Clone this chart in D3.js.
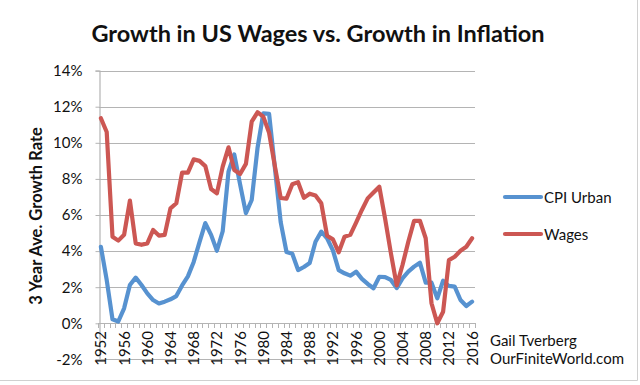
<!DOCTYPE html>
<html>
<head>
<meta charset="utf-8">
<script src="https://cdn.jsdelivr.net/npm/d3@7"></script>
<style>
  body { margin: 0; background: #fff; }
  svg { display: block; font-family: Lato, "Open Sans", sans-serif; }
</style>
</head>
<body>
<svg id="chart" width="640" height="385"></svg>
<script>
// years 1952..2016, 3 year average growth rates (%)
var years = d3.range(1952, 2017);
var cpiUrban = [4.24, 2.4, 0.22, 0.1, 0.83, 2.12, 2.53, 2.12, 1.66, 1.29,
  1.1, 1.2, 1.33, 1.51, 2.1, 2.6, 3.4, 4.5, 5.55, 4.9,
  4.02, 5.1, 8.4, 9.35, 7.7, 6.1, 6.83, 9.7, 11.63, 11.6,
  8.6, 5.6, 3.95, 3.85, 2.95, 3.12, 3.34, 4.52, 5.08, 4.71,
  4.04, 2.95, 2.77, 2.64, 2.86, 2.46, 2.18, 1.94, 2.58, 2.56,
  2.4, 1.95, 2.49, 2.86, 3.14, 3.36, 2.25, 2.25, 1.38, 2.36,
  2.07, 2.03, 1.29, 0.96, 1.2];
var wages = [11.36, 10.6, 4.8, 4.58, 4.9, 6.8, 4.43, 4.35, 4.43, 5.17,
  4.86, 4.9, 6.37, 6.65, 8.35, 8.35, 9.08, 9.0, 8.71, 7.44,
  7.2, 8.68, 9.75, 8.49, 8.27, 8.83, 11.17, 11.69, 11.45, 10.55,
  8.7, 6.95, 6.9, 7.7, 7.82, 6.95, 7.18, 7.08, 6.65, 4.85,
  4.65, 3.93, 4.8, 4.9, 5.58, 6.28, 6.92, 7.25, 7.57, 5.8,
  3.88, 2.1, 3.23, 4.52, 5.68, 5.68, 4.71, 1.11, 0.0, 0.64,
  3.5, 3.69, 4.02, 4.24, 4.71];
var yTicks = [-2, 0, 2, 4, 6, 8, 10, 12, 14];
var labelYears = years.filter(function(y){ return (y - 1952) % 4 === 0; });

var series = [
  {name: "CPI Urban", values: cpiUrban, color: "#5792d0"},
  {name: "Wages", values: wages, color: "#cc5753"}
];

var svg = d3.select("#chart");

var x = d3.scaleBand().domain(years).range([98, 475]);
var y = d3.scaleLinear().domain([-2, 14]).range([359.4, 70.6]);
var cx = function(yr){ return x(yr) + x.bandwidth() / 2; };

// frame
svg.append("path")
  .attr("d", "M637.5,0V380.5H0")
  .attr("fill", "none")
  .attr("stroke", "#d0d0d0");

// gridlines
svg.append("g")
  .selectAll("line")
  .data(yTicks)
  .enter()
  .append("line")
  .attr("x1", 99).attr("x2", 475)
  .attr("y1", function(d){ return Math.round(y(d)) + 0.5; })
  .attr("y2", function(d){ return Math.round(y(d)) + 0.5; })
  .attr("stroke", "#b4b4b4")
  .attr("stroke-width", 1.2);

// y axis
var yAxis = d3.axisLeft(y)
  .tickValues(yTicks)
  .tickSize(4)
  .tickPadding(13)
  .tickFormat(function(d){ return d + "%"; });
var gy = svg.append("g").attr("transform", "translate(99.5,0)").call(yAxis);
gy.select(".domain").attr("stroke", "#b4b4b4").attr("stroke-width", 1.2);
gy.selectAll(".tick line").attr("stroke", "#b4b4b4");
gy.selectAll(".tick text").attr("font-size", 15).attr("fill", "#111")
  .attr("font-family", "Lato, sans-serif");

// x axis minor ticks at each category boundary, on the 0% line
var bounds = years.map(function(yr){ return x(yr); }).concat([x.range()[1]]);
svg.append("g")
  .selectAll("line")
  .data(bounds)
  .enter()
  .append("line")
  .attr("x1", function(d){ return Math.round(d) + 0.5; })
  .attr("x2", function(d){ return Math.round(d) + 0.5; })
  .attr("y1", Math.round(y(0)))
  .attr("y2", Math.round(y(0)) + 5)
  .attr("stroke", "#b4b4b4");

// x labels rotated
svg.append("g")
  .selectAll("text")
  .data(labelYears)
  .enter()
  .append("text")
  .attr("transform", function(d){ return "translate(" + (cx(d) + 5.5) + "," + 331 + ") rotate(-90)"; })
  .attr("text-anchor", "end")
  .attr("font-size", 15)
  .attr("fill", "#111")
  .text(function(d){ return d; });

// lines
var line = d3.line()
  .x(function(d, i){ return cx(years[i]); })
  .y(function(d){ return y(d); });

svg.append("g")
  .selectAll("path")
  .data(series)
  .enter()
  .append("path")
  .attr("d", function(s){ return line(s.values); })
  .attr("fill", "none")
  .attr("stroke", function(s){ return s.color; })
  .attr("stroke-width", 4.2)
  .attr("stroke-linejoin", "round")
  .attr("stroke-linecap", "round");

// legend
var lg = svg.append("g")
  .selectAll("g")
  .data(series)
  .enter()
  .append("g")
  .attr("transform", function(s, i){ return "translate(0," + (197 + i * 37) + ")"; });
lg.append("line")
  .attr("x1", 505).attr("x2", 541)
  .attr("stroke", function(s){ return s.color; })
  .attr("stroke-width", 4.2)
  .attr("stroke-linecap", "round");
lg.append("text")
  .attr("x", 544).attr("y", 6)
  .attr("font-size", 15)
  .attr("fill", "#111")
  .text(function(s){ return s.name; });

// title
svg.append("text")
  .attr("x", 318).attr("y", 42)
  .attr("text-anchor", "middle")
  .attr("font-size", 23.5)
  .attr("font-weight", "bold")
  .attr("fill", "#111")
  .text("Growth in US Wages vs. Growth in Inflation");

// y axis title
svg.append("text")
  .attr("transform", "translate(42,216) rotate(-90)")
  .attr("text-anchor", "middle")
  .attr("font-size", 16.5)
  .attr("font-weight", "bold")
  .attr("fill", "#111")
  .text("3 Year Ave. Growth Rate");

// credit
svg.append("text").attr("x", 490).attr("y", 346).attr("font-size", 15).attr("fill", "#111")
  .text("Gail Tverberg");
svg.append("text").attr("x", 490).attr("y", 364).attr("font-size", 15).attr("fill", "#111")
  .text("OurFiniteWorld.com");
</script>
</body>
</html>
